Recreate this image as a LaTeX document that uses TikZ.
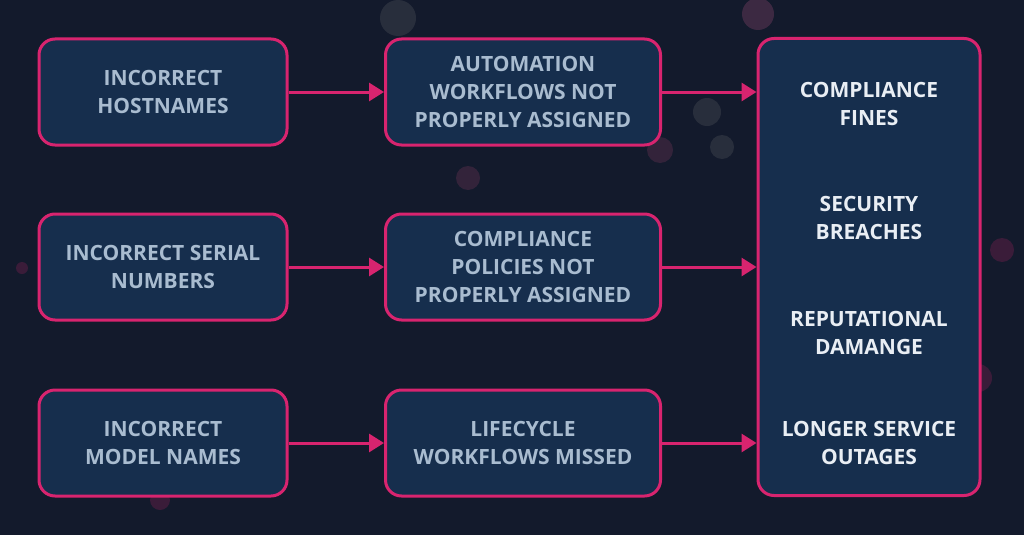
\documentclass[tikz,border=0pt]{standalone}
\usepackage{fontspec}
\setmainfont{Open Sans}
\usetikzlibrary{arrows.meta,positioning}

\definecolor{bgnavy}{HTML}{131A2C}
\definecolor{boxblue}{HTML}{162E4D}
\definecolor{edgepink}{HTML}{D8246F}
\definecolor{softtext}{HTML}{A9BCD0}
\definecolor{brighttext}{HTML}{E9EEF4}

\begin{document}
\begin{tikzpicture}[x=1pt,y=-1pt,auto,
    cause/.style={draw=edgepink,line width=3pt,fill=boxblue,rounded corners=16pt,
      minimum height=106pt,align=center,text=softtext,
      font=\bfseries\fontsize{21}{28}\selectfont},
    impact/.style={align=center,text=brighttext,
      font=\bfseries\fontsize{21}{28}\selectfont},
    link/.style={draw=edgepink,line width=3pt,-{Triangle[length=15pt,width=18pt]}},
    glow/.style={fill=#1,opacity=0.2}]
  % backdrop
  \fill[bgnavy] (0,0) rectangle (1024,535);
  \useasboundingbox (0,0) rectangle (1024,535);
  \fill[glow=edgepink!70!white] (758,14) circle (16);
  \fill[glow=gray] (707,112) circle (14);
  \fill[glow=gray] (722,147) circle (12);
  \fill[glow=edgepink!60!gray] (660,150) circle (13);
  \fill[glow=edgepink!60!gray] (468,178) circle (12);
  \fill[glow=edgepink] (1002,250) circle (12);
  \fill[glow=edgepink] (978,378) circle (14);
  \fill[glow=edgepink] (22,268) circle (6);
  \fill[glow=edgepink] (160,500) circle (10);
  \fill[glow=gray] (398,18) circle (18);

  \node[cause,minimum width=248pt] (host) at (163,92) {INCORRECT\\HOSTNAMES};
  \node[cause,minimum width=248pt] (serial) at (163,267) {INCORRECT SERIAL\\NUMBERS};
  \node[cause,minimum width=248pt] (model) at (163,443) {INCORRECT\\MODEL NAMES};

  \node[cause,minimum width=275pt] (autowf) at (523,92) {AUTOMATION\\WORKFLOWS NOT\\PROPERLY ASSIGNED};
  \node[cause,minimum width=275pt] (policy) at (523,267) {COMPLIANCE\\POLICIES NOT\\PROPERLY ASSIGNED};
  \node[cause,minimum width=275pt] (lifewf) at (523,443) {LIFECYCLE\\WORKFLOWS MISSED};

  \node[cause,minimum width=222pt,minimum height=457pt] (result) at (869,267) {};
  \node[impact] (fines) at (869,104) {COMPLIANCE\\FINES};
  \node[impact] (breach) at (869,218) {SECURITY\\BREACHES};
  \node[impact] (damage) at (869,333) {REPUTATIONAL\\DAMANGE};
  \node[impact] (outage) at (869,443) {LONGER SERVICE\\OUTAGES};

  \draw[link] (host) -- (autowf);
  \draw[link] (serial) -- (policy);
  \draw[link] (model) -- (lifewf);
  \draw[link] (autowf) -- (autowf.east -| result.west);
  \draw[link] (policy) -- (policy.east -| result.west);
  \draw[link] (lifewf) -- (lifewf.east -| result.west);
\end{tikzpicture}
\end{document}
